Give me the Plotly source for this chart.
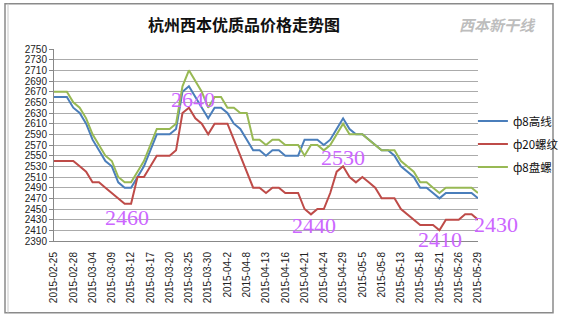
import plotly.graph_objects as go

dates = [
    "2015-02-25", "2015-02-26", "2015-02-27", "2015-02-28", "2015-03-02", "2015-03-03",
    "2015-03-04", "2015-03-05", "2015-03-06", "2015-03-09", "2015-03-10", "2015-03-11",
    "2015-03-12", "2015-03-13", "2015-03-16", "2015-03-17", "2015-03-18", "2015-03-19",
    "2015-03-20", "2015-03-23", "2015-03-24", "2015-03-25", "2015-03-26", "2015-03-27",
    "2015-03-30", "2015-03-31", "2015-04-1", "2015-04-2", "2015-04-3", "2015-04-7",
    "2015-04-8", "2015-04-9", "2015-04-10", "2015-04-13", "2015-04-14", "2015-04-15",
    "2015-04-16", "2015-04-17", "2015-04-20", "2015-04-21", "2015-04-22", "2015-04-23",
    "2015-04-24", "2015-04-27", "2015-04-28", "2015-04-29", "2015-04-30", "2015-05-4",
    "2015-05-5", "2015-05-6", "2015-05-7", "2015-05-8", "2015-05-11", "2015-05-12",
    "2015-05-13", "2015-05-14", "2015-05-15", "2015-05-18", "2015-05-19", "2015-05-20",
    "2015-05-21", "2015-05-22", "2015-05-25", "2015-05-26", "2015-05-27", "2015-05-28",
    "2015-05-29",
]

gaoxian = [  # ф8高线 (blue)
    2660, 2660, 2660, 2640, 2630, 2610, 2580, 2560, 2540, 2530, 2500, 2490,
    2490, 2510, 2530, 2560, 2590, 2590, 2590, 2600, 2670, 2680, 2660, 2640,
    2620, 2640, 2640, 2630, 2610, 2600, 2580, 2560, 2560, 2550, 2560, 2560,
    2550, 2550, 2550, 2580, 2580, 2580, 2570, 2580, 2600, 2620, 2600, 2590,
    2590, 2580, 2570, 2560, 2560, 2550, 2530, 2520, 2510, 2490, 2490, 2480,
    2470, 2480, 2480, 2480, 2480, 2480, 2470,
]
luowen = [  # ф20螺纹 (red)
    2540, 2540, 2540, 2540, 2530, 2520, 2500, 2500, 2490, 2480, 2470, 2460,
    2460, 2510, 2510, 2530, 2550, 2550, 2550, 2560, 2630, 2640, 2620, 2610,
    2590, 2610, 2610, 2610, 2580, 2550, 2520, 2490, 2490, 2480, 2490, 2490,
    2480, 2480, 2480, 2450, 2440, 2450, 2450, 2480, 2520, 2530, 2510, 2500,
    2510, 2500, 2490, 2470, 2470, 2470, 2450, 2440, 2430, 2420, 2420, 2420,
    2410, 2430, 2430, 2430, 2440, 2440, 2430,
]
panluo = [  # ф8盘螺 (green)
    2670, 2670, 2670, 2650, 2640, 2620, 2590, 2570, 2550, 2540, 2510, 2500,
    2500, 2520, 2540, 2570, 2600, 2600, 2600, 2610, 2680, 2710, 2690, 2670,
    2640, 2660, 2660, 2640, 2640, 2630, 2630, 2580, 2580, 2570, 2580, 2580,
    2570, 2570, 2570, 2550, 2570, 2570, 2560, 2570, 2590, 2610, 2590, 2590,
    2590, 2580, 2570, 2560, 2560, 2560, 2540, 2530, 2520, 2500, 2500, 2490,
    2480, 2490, 2490, 2490, 2490, 2490, 2480,
]

series_names = ["ф8高线", "ф20螺纹", "ф8盘螺"]
series_colors = ["#4A7EBB", "#BE4B48", "#98B954"]

# callout labels (pixel centres converted to plot-area fractions below)
callout_text = ["2460", "2640", "2440", "2530", "2410", "2430"]
callout_px = [127, 193, 314, 343, 440, 496]
callout_py = [218, 100, 226, 158, 240, 225]

y_ticks = list(range(2390, 2751, 20))
x_tickvals = dates[::3]

fig = go.Figure()
for i, (name, vals, col) in enumerate(zip(series_names, [gaoxian, luowen, panluo], series_colors)):
    fig.add_trace(go.Scatter(
        x=dates, y=vals, mode="lines", name=name,
        line=dict(color=col, width=2), legendgroup=f"g{i}",
    ))

for t, px, py in zip(callout_text, callout_px, callout_py):
    fig.add_annotation(
        x=(px - 54) / 424, y=(241.3 - py) / 192, xref="paper", yref="paper",
        xanchor="center", yanchor="middle", text=t, showarrow=False,
        font=dict(family="Liberation Serif", size=22, color="#CC66FF"),
    )

fig.add_annotation(
    xref="paper", yref="paper", x=(497 - 54) / 424, y=(241.3 - 25) / 192,
    xanchor="center", yanchor="middle",
    text="<i><b>西本新干线</b></i>", showarrow=False,
    font=dict(family="Noto Sans CJK SC", size=15, color="#BDBDBD"),
)

fig.update_layout(
    width=562, height=324,
    margin=dict(l=54, r=84, t=49, b=83, autoexpand=False),
    paper_bgcolor="white", plot_bgcolor="white",
    title=dict(text="<b>杭州西本优质品价格走势图</b>", x=244 / 562, xanchor="center",
               y=1 - 25 / 324, yanchor="middle",
               font=dict(family="Noto Sans CJK SC", size=16, color="#111111")),
    showlegend=True,
    legend=dict(x=0.988, y=0.70, xanchor="left", yanchor="top",
                font=dict(family="Noto Sans CJK SC", size=11.5, color="#111111"),
                tracegroupgap=4, bgcolor="rgba(0,0,0,0)", itemwidth=30),
    xaxis=dict(
        type="category", range=[0, len(dates) - 1],
        tickmode="array", tickvals=x_tickvals, ticktext=x_tickvals,
        tickangle=-90, tickfont=dict(family="Liberation Sans", size=10, color="#222222"),
        showgrid=False, showline=True, linecolor="#888888", linewidth=1,
        ticks="", ticklabelstandoff=6, zeroline=False,
    ),
    yaxis=dict(
        range=[2390, 2750], tickmode="array", tickvals=y_ticks,
        tickfont=dict(family="Liberation Sans", size=10, color="#222222"),
        showgrid=True, gridcolor="#ABABAB", gridwidth=1,
        showline=True, linecolor="#888888", linewidth=1,
        ticks="outside", ticklen=4, tickcolor="#888888", zeroline=False,
    ),
    shapes=[
        dict(type="rect", xref="paper", yref="paper",
             x0=(5 - 54) / 424, x1=(553 - 54) / 424,
             y0=(241.3 - 313) / 192, y1=(241.3 - 4) / 192,
             line=dict(color="#8A8A8A", width=1.5), layer="below"),
        dict(type="line", xref="paper", yref="paper",
             x0=(8 - 54) / 424, x1=(8 - 54) / 424,
             y0=(241.3 - 313) / 192, y1=(241.3 - 4) / 192,
             line=dict(color="#C8C8C8", width=1), layer="below"),
    ],
)

fig.write_html("out.html")
